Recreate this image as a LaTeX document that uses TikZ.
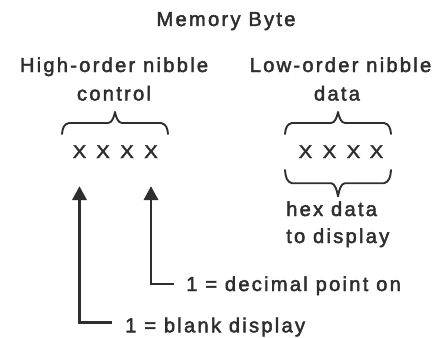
\documentclass[tikz,border=0pt]{standalone}
\usepackage{fontspec}
\setmainfont{Liberation Sans}[LetterSpace=11, FakeBold=2.2]
\newfontfamily\bitfont{Liberation Sans}[FakeStretch=1.1, FakeBold=2.2]
\usetikzlibrary{arrows.meta}
\definecolor{ink}{HTML}{2E2E2E}

\tikzset{
  label/.style={inner sep=0pt, text=ink, font=\fontsize{20.2}{24}\selectfont},
  bit/.style={inner sep=0pt, text=ink, font=\bitfont\fontsize{18.5}{20}\selectfont},
  bracepen/.style={draw=ink, line width=1.9pt, line cap=round, line join=round},
  pointer/.style={draw=ink, line width=2.4pt, line join=miter,
    -{Triangle[width=14.5pt, length=14pt]}},
  pics/nibblebrace/.style={code={
    \draw[bracepen] (-53,0) .. controls (-52.5,-6) and (-51,-10) .. (-46,-11)
      -- (-7,-11) .. controls (-3,-11) and (-1,-17) .. (0,-22)
      .. controls (1,-17) and (3,-11) .. (7,-11)
      -- (46,-11) .. controls (51,-10) and (52.5,-6) .. (53,0);
  }}
}

\begin{document}
\begin{tikzpicture}[x=1pt, y=-1pt]
  \useasboundingbox (0,0) rectangle (435,337);

  % headings
  \node[label, anchor=base] (title) at (226,26) {Memory Byte};
  \node[label, anchor=base] (high) at (114,72) {High-order nibble};
  \node[label, anchor=base] (ctrl) at (114,100.5) {control};
  \node[label, anchor=base] (low) at (340.5,72) {Low-order nibble};
  \node[label, anchor=base] (data) at (337,100.5) {data};

  % braces over and under the nibbles
  \pic at (115,134) {nibblebrace};
  \pic at (338,134) {nibblebrace};
  \pic[yscale=-1.2] at (338,170) {nibblebrace};

  % the eight bits
  \foreach \i/\x in {1/79.5, 2/103, 3/127, 4/151}
    \node[bit, anchor=base] (h\i) at (\x,158) {X};
  \foreach \i/\x in {1/305.5, 2/329.5, 3/353.5, 4/376.5}
    \node[bit, anchor=base] (l\i) at (\x,158) {X};

  % descriptions
  \node[label, anchor=base west] (hex1) at (286,216) {hex data};
  \node[label, anchor=base west] (hex2) at (286,243) {to display};
  \node[label, anchor=base west] (dp) at (186,291) {1 = decimal point on};
  \node[label, anchor=base west] (blank) at (125,332.3) {1 = blank display};

  % pointers from the control meanings to their bits
  \draw[pointer] ([xshift=-12.5pt, yshift=7pt]dp.base west) -| ([yshift=-28pt]h4.south);
  \draw[pointer] ([xshift=-13pt, yshift=10pt]blank.base west) -| ([yshift=-28pt]h1.south);
\end{tikzpicture}
\end{document}
